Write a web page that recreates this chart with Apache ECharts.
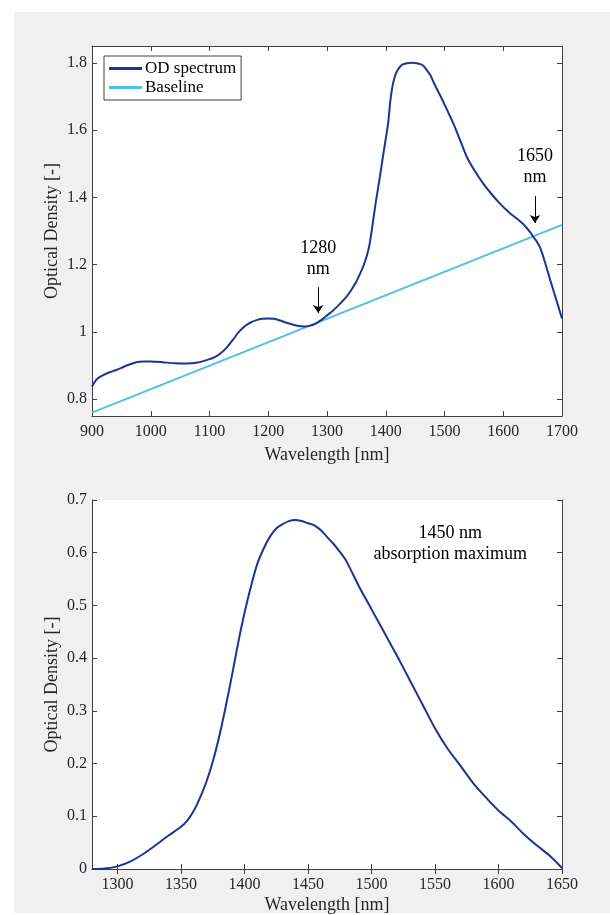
<!DOCTYPE html>
<html>
<head>
<meta charset="utf-8">
<script src="https://cdn.jsdelivr.net/npm/echarts@6/dist/echarts.min.js"></script>
<style>
  html, body { margin: 0; padding: 0; background: #fff; }
  #main { width: 610px; height: 915px; }
</style>
</head>
<body>
<div id="main"></div>
<script>
// top plot: OD spectrum + baseline
var odWavelength = [900, 905, 910, 920, 930, 940, 950, 960, 970, 980, 990, 1000, 1020, 1040, 1060, 1080, 1100, 1110,
    1120, 1130, 1140, 1150, 1160, 1170, 1180, 1190, 1200, 1210, 1220, 1230, 1240, 1250, 1260, 1270, 1280, 1290, 1300,
    1310, 1320, 1330, 1340, 1350, 1356, 1362, 1368, 1372, 1376, 1383, 1390, 1397, 1404, 1408, 1412, 1416, 1420, 1425,
    1430, 1436, 1445, 1453, 1459, 1464, 1470, 1476, 1482, 1490, 1498, 1506, 1515, 1525, 1538, 1550, 1566, 1580, 1594,
    1610, 1623, 1633, 1640, 1646, 1651, 1657, 1663, 1670, 1680, 1690, 1700];
var odValue = [0.838, 0.852, 0.862, 0.872, 0.880, 0.886, 0.893, 0.901, 0.907, 0.911, 0.912, 0.912, 0.910, 0.907, 0.906, 0.909, 0.919, 0.926,
    0.938, 0.955, 0.977, 1.000, 1.017, 1.028, 1.035, 1.039, 1.040, 1.039, 1.034, 1.028, 1.023, 1.018, 1.016, 1.018, 1.024, 1.035, 1.049,
    1.063, 1.080, 1.098, 1.121, 1.150, 1.172, 1.196, 1.228, 1.256, 1.300, 1.385, 1.461, 1.541, 1.620, 1.690, 1.735, 1.762, 1.778, 1.790,
    1.796, 1.799, 1.800, 1.799, 1.796, 1.791, 1.778, 1.763, 1.740, 1.712, 1.684, 1.654, 1.620, 1.577, 1.520, 1.483, 1.441, 1.410, 1.382,
    1.355, 1.337, 1.322, 1.309, 1.296, 1.283, 1.269, 1.250, 1.213, 1.154, 1.097, 1.040];
var baseWavelength = [900, 1700];
var baseValue = [0.760, 1.318];
var topYTicks = [0.8, 1.0, 1.2, 1.4, 1.6, 1.8];

// bottom plot: baseline corrected spectrum
var corrWavelength = [1280, 1290, 1300, 1310, 1320, 1330, 1340, 1350, 1355, 1360, 1365, 1370, 1375, 1380, 1385, 1390,
    1395, 1400, 1405, 1410, 1415, 1420, 1425, 1430, 1435, 1440, 1445, 1450, 1455, 1460, 1465, 1470, 1475, 1480, 1490,
    1500, 1510, 1520, 1530, 1540, 1550, 1560, 1570, 1580, 1590, 1600, 1610, 1620, 1630, 1640, 1650];
var corrValue = [0.000, 0.001, 0.005, 0.014, 0.028, 0.045, 0.063, 0.080, 0.092, 0.110, 0.135, 0.165, 0.203, 0.250, 0.305, 0.365,
    0.428, 0.485, 0.535, 0.578, 0.607, 0.630, 0.646, 0.654, 0.660, 0.662, 0.660, 0.656, 0.652, 0.643, 0.630, 0.617, 0.602, 0.585, 0.537,
    0.493, 0.449, 0.405, 0.359, 0.313, 0.267, 0.228, 0.196, 0.163, 0.136, 0.111, 0.090, 0.066, 0.045, 0.026, 0.002];
var bottomXTicks = [1300, 1350, 1400, 1450, 1500, 1550, 1600, 1650];

var serif = 'Liberation Serif';
var axisColor = '#404040';
var textColor = '#262626';
var darkBlue = '#1b3591';
var lightBlue = '#4dbeee';

function zip(xs, ys) {
    var out = [];
    for (var i = 0; i < xs.length; i++) out.push([xs[i], ys[i]]);
    return out;
}

function plainNum(v) {
    return String(+v.toFixed(1));
}

// common axis settings (MATLAB like box with inward ticks)
function axisBase(extra) {
    var a = {
        axisLine: { show: true, lineStyle: { color: axisColor, width: 1 } },
        axisTick: { show: true, inside: true, length: 5, lineStyle: { color: axisColor } },
        axisLabel: { color: textColor, fontFamily: serif, fontSize: 16, formatter: plainNum },
        splitLine: { show: false },
        nameMoveOverlap: false,
        nameTextStyle: { color: textColor, fontFamily: serif, fontSize: 18 }
    };
    for (var k in extra) a[k] = extra[k];
    return a;
}

function ticks(values) {
    return { show: true, inside: true, length: 5, lineStyle: { color: axisColor }, customValues: values };
}

function labels(values, margin) {
    return { color: textColor, fontFamily: serif, fontSize: 16, margin: margin, customValues: values, formatter: plainNum };
}

function textMark(name, x, y) {
    return { name: name, coord: [x, y] };
}

var chart = echarts.init(document.getElementById('main'));

var option = {
    backgroundColor: '#fff',
    animation: false,
    graphic: [{
        type: 'rect', z: -10, silent: true,
        shape: { x: 14, y: 12, width: 596, height: 901 },
        style: { fill: '#f0f0f0' }
    }],
    grid: [
        { left: 92, top: 46, width: 470, height: 370, show: true, backgroundColor: '#fff', borderWidth: 0 },
        { left: 92, top: 500, width: 470, height: 369, show: true, backgroundColor: '#fff', borderWidth: 0 }
    ],
    legend: {
        left: 104, top: 56,
        orient: 'vertical',
        data: ['OD spectrum', 'Baseline'],
        icon: 'rect',
        itemWidth: 33, itemHeight: 3, itemGap: 2,
        padding: [4, 5, 4, 5],
        backgroundColor: '#fff',
        borderColor: axisColor, borderWidth: 1,
        textStyle: { color: '#000', fontFamily: serif, fontSize: 17, padding: [0, 0, 0, -2] }
    },
    xAxis: [
        axisBase({ gridIndex: 0, type: 'value', min: 900, max: 1700, interval: 100, position: 'bottom',
            name: 'Wavelength [nm]', nameLocation: 'middle', nameGap: 30 }),
        axisBase({ gridIndex: 0, type: 'value', min: 900, max: 1700, interval: 100, position: 'top',
            axisLabel: { show: false } }),
        axisBase({ gridIndex: 1, type: 'value', min: 1280, max: 1650, position: 'bottom',
            name: 'Wavelength [nm]', nameLocation: 'middle', nameGap: 27,
            axisTick: ticks(bottomXTicks), axisLabel: labels(bottomXTicks, 8) }),
        axisBase({ gridIndex: 1, type: 'value', min: 1280, max: 1650, position: 'top',
            axisTick: ticks(bottomXTicks), axisLabel: { show: false } })
    ],
    yAxis: [
        axisBase({ gridIndex: 0, type: 'value', min: 0.75, max: 1.85, position: 'left',
            name: 'Optical Density [-]', nameLocation: 'middle', nameGap: 31,
            axisTick: ticks(topYTicks), axisLabel: labels(topYTicks, 5) }),
        axisBase({ gridIndex: 0, type: 'value', min: 0.75, max: 1.85, position: 'right',
            axisTick: ticks(topYTicks), axisLabel: { show: false } }),
        axisBase({ gridIndex: 1, type: 'value', min: 0, max: 0.7, interval: 0.1, position: 'left',
            name: 'Optical Density [-]', nameLocation: 'middle', nameGap: 31,
            axisLabel: { color: textColor, fontFamily: serif, fontSize: 16, margin: 5, formatter: plainNum } }),
        axisBase({ gridIndex: 1, type: 'value', min: 0, max: 0.7, interval: 0.1, position: 'right',
            axisLabel: { show: false } })
    ],
    series: [
        {
            name: 'OD spectrum', type: 'line', xAxisIndex: 0, yAxisIndex: 0,
            data: zip(odWavelength, odValue),
            showSymbol: false, smooth: 0.25, z: 3,
            lineStyle: { color: darkBlue, width: 2 }, itemStyle: { color: darkBlue },
            markLine: {
                silent: true, symbol: ['none', 'arrow'], symbolSize: 8,
                label: { show: false },
                lineStyle: { color: '#000', width: 1, type: 'solid' },
                data: [
                    [{ coord: [1285, 1.133] }, { coord: [1285, 1.056] }],
                    [{ coord: [1654, 1.404] }, { coord: [1654, 1.324] }]
                ]
            },
            markPoint: {
                silent: true, symbol: 'rect', symbolSize: 1,
                itemStyle: { color: 'rgba(0,0,0,0)' },
                label: { show: true, position: 'inside', color: '#000', fontFamily: serif, fontSize: 18, lineHeight: 21,
                    formatter: function (p) { return p.name; } },
                data: [textMark('1280\nnm', 1285, 1.218), textMark('1650\nnm', 1654, 1.490)]
            }
        },
        {
            name: 'Baseline', type: 'line', xAxisIndex: 0, yAxisIndex: 0,
            data: zip(baseWavelength, baseValue),
            showSymbol: false, z: 2,
            lineStyle: { color: lightBlue, width: 2 }, itemStyle: { color: lightBlue }
        },
        {
            name: 'Corrected', type: 'line', xAxisIndex: 2, yAxisIndex: 2,
            data: zip(corrWavelength, corrValue),
            showSymbol: false, smooth: 0.25,
            lineStyle: { color: darkBlue, width: 2 }, itemStyle: { color: darkBlue },
            markPoint: {
                silent: true, symbol: 'rect', symbolSize: 1,
                itemStyle: { color: 'rgba(0,0,0,0)' },
                label: { show: true, position: 'inside', color: '#000', fontFamily: serif, fontSize: 18, lineHeight: 21,
                    formatter: function (p) { return p.name; } },
                data: [textMark('1450 nm\nabsorption maximum', 1562, 0.617)]
            }
        }
    ]
};

chart.setOption(option);
</script>
</body>
</html>
